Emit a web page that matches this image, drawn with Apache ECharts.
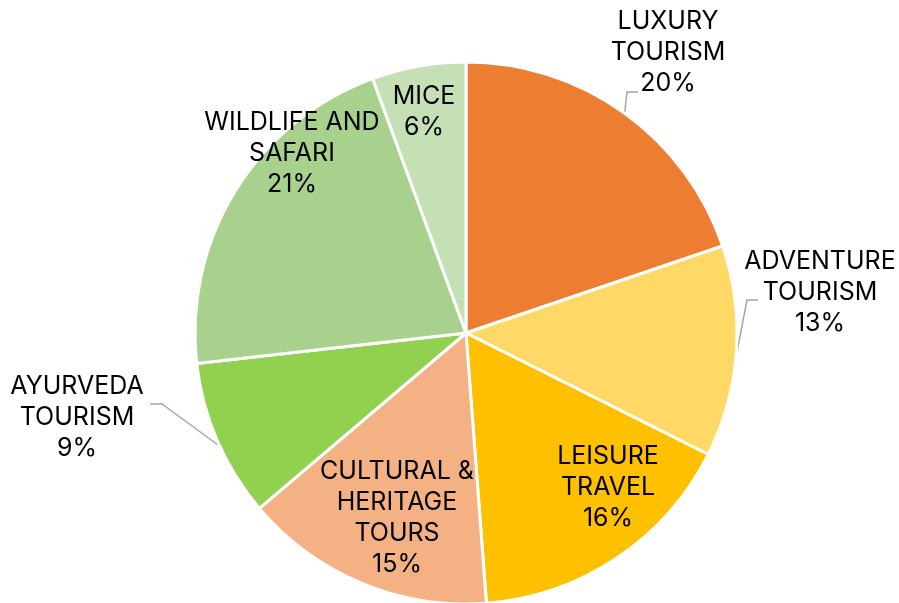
<!DOCTYPE html>
<html>
<head>
<meta charset="utf-8">
<script src="https://cdn.jsdelivr.net/npm/echarts@6/dist/echarts.min.js"></script>
<style>
  html, body { margin: 0; padding: 0; background: #fff; }
  #main { width: 899px; height: 603px; }
</style>
</head>
<body>
<div id="main"></div>
<script>
// categories, clockwise from 12 o'clock
var categories = ['LUXURY\nTOURISM', 'ADVENTURE\nTOURISM', 'LEISURE\nTRAVEL', 'CULTURAL &\nHERITAGE\nTOURS', 'AYURVEDA\nTOURISM', 'WILDLIFE AND\nSAFARI', 'MICE'];
// share in % (labels show them rounded)
var shares = [19.8, 12.6, 16.4, 15.0, 9.4, 21.2, 5.6];
var colors = ['#ED7D31', '#FFD966', '#FFC000', '#F4B183', '#92D050', '#A9D18E', '#C5E0B4'];

// label placement (pixels) and leader lines for the outside ones
var labelSpots = [[668, 52], [820, 292], [608, 487], [397, 518], [77, 417], [292, 153], [424, 112]];
var leaderLines = {
  0: [[624, 119], [627, 92], [638, 92]],
  1: [[737, 352], [747, 300], [758, 300]],
  4: [[218, 445], [162, 404], [150, 404]]
};

var chart = echarts.init(document.getElementById('main'));

var data = categories.map(function (name, i) {
  var outside = leaderLines[i] !== undefined;
  return {
    name: name,
    value: shares[i],
    itemStyle: { color: colors[i] },
    label: { position: outside ? 'outside' : 'inside' },
    labelLine: { show: outside }
  };
});

var option = {
  animation: false,
  series: [{
    type: 'pie',
    center: [466, 333],
    radius: 271,
    startAngle: 90,
    clockwise: true,
    percentPrecision: 0,
    avoidLabelOverlap: false,
    itemStyle: { borderColor: '#fff', borderWidth: 3 },
    label: {
      formatter: '{b}\n{d}%',
      fontFamily: 'Inter',
      fontSize: 25,
      lineHeight: 31,
      color: '#000',
      align: 'center'
    },
    labelLine: {
      lineStyle: { color: '#A6A6A6', width: 1.5 }
    },
    labelLayout: function (params) {
      var i = params.dataIndex;
      var res = {
        x: labelSpots[i][0],
        y: labelSpots[i][1],
        align: 'center',
        verticalAlign: 'middle'
      };
      if (leaderLines[i]) {
        res.labelLinePoints = leaderLines[i];
      }
      return res;
    },
    data: data
  }]
};

chart.setOption(option);
</script>
</body>
</html>
